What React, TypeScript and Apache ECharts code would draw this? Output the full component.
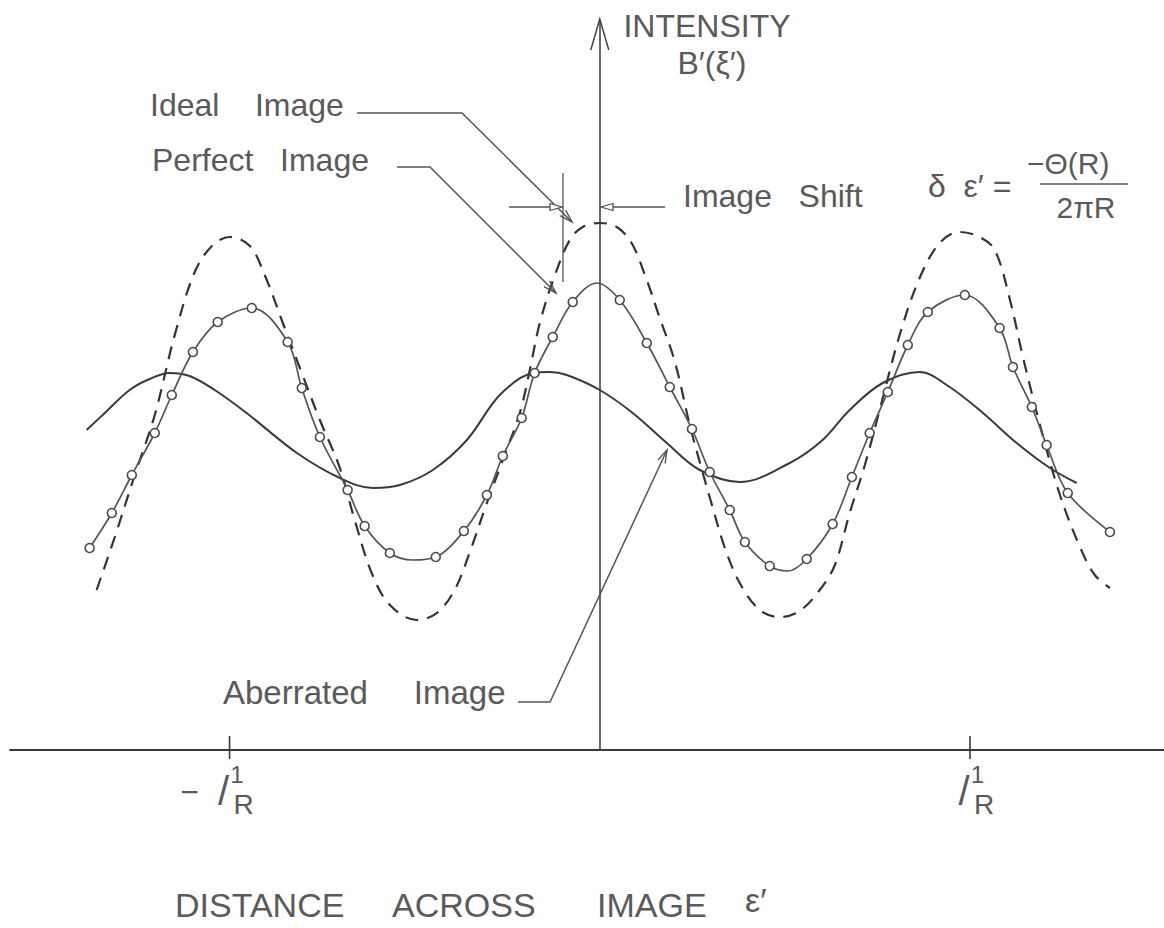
import React, { useEffect, useRef } from "react";
import * as echarts from "echarts";

// Axis extents: x in units of 1/R, y = intensity (arbitrary units)
const X_MIN = -1.593;
const X_MAX = 1.524;
const Y_MIN = 0;
const Y_MAX = 7.28;

// Ideal image (dashed)
const idealX = [-1.359, -1.31, -1.256, -1.202, -1.148, -1.094, -1.045, -0.999, -0.945, -0.905, -0.856, -0.81, -0.756, -0.702, -0.662, -0.616, -0.567, -0.494, -0.44, -0.392, -0.351, -0.305, -0.257, -0.216, -0.189, -0.162, -0.122, -0.081, -0.046, 0.0, 0.046, 0.086, 0.122, 0.162, 0.203, 0.243, 0.27, 0.303, 0.338, 0.378, 0.432, 0.486, 0.54, 0.594, 0.635, 0.675, 0.716, 0.756, 0.81, 0.864, 0.918, 0.972, 1.026, 1.067, 1.108, 1.143, 1.189, 1.243, 1.297, 1.337, 1.378];
const idealY = [1.6, 2.13, 2.75, 3.35, 4.15, 4.78, 5.05, 5.13, 5.04, 4.75, 4.27, 3.82, 3.3, 2.82, 2.3, 1.77, 1.45, 1.3, 1.37, 1.6, 1.98, 2.47, 2.95, 3.37, 3.8, 4.27, 4.74, 5.1, 5.23, 5.27, 5.23, 5.07, 4.75, 4.32, 3.88, 3.25, 2.88, 2.45, 2.02, 1.67, 1.4, 1.33, 1.39, 1.6, 1.85, 2.37, 2.85, 3.4, 4.15, 4.72, 5.07, 5.18, 5.13, 5.0, 4.5, 3.93, 3.25, 2.55, 2.03, 1.75, 1.62];

// Perfect image (solid with circles); perfectCircle = 1 where a plotted circle is drawn
const perfectX = [-1.378, -1.318, -1.264, -1.202, -1.156, -1.099, -1.032, -0.94, -0.843, -0.805, -0.756, -0.681, -0.635, -0.567, -0.505, -0.443, -0.367, -0.305, -0.262, -0.211, -0.176, -0.127, -0.073, -0.008, 0.054, 0.127, 0.189, 0.249, 0.297, 0.351, 0.392, 0.459, 0.508, 0.559, 0.629, 0.681, 0.729, 0.778, 0.832, 0.886, 0.986, 1.08, 1.116, 1.167, 1.207, 1.264, 1.378];
const perfectY = [2.02, 2.37, 2.75, 3.17, 3.55, 3.98, 4.28, 4.42, 4.08, 3.62, 3.13, 2.6, 2.24, 1.97, 1.9, 1.93, 2.19, 2.55, 2.94, 3.32, 3.77, 4.13, 4.48, 4.67, 4.5, 4.07, 3.63, 3.21, 2.78, 2.4, 2.08, 1.84, 1.79, 1.91, 2.26, 2.73, 3.17, 3.58, 4.05, 4.38, 4.55, 4.22, 3.83, 3.43, 3.05, 2.57, 2.18];
const perfectCircle = [1, 1, 1, 1, 1, 1, 1, 1, 1, 1, 1, 1, 1, 1, 0, 1, 1, 1, 1, 1, 1, 1, 1, 0, 1, 1, 1, 1, 1, 1, 1, 1, 0, 1, 1, 1, 1, 1, 1, 1, 1, 1, 1, 1, 1, 1, 1];

// Aberrated image (smooth solid)
const aberratedX = [-1.386, -1.337, -1.27, -1.216, -1.162, -1.108, -1.04, -0.954, -0.818, -0.702, -0.613, -0.54, -0.451, -0.359, -0.27, -0.181, -0.135, -0.089, 0.0, 0.089, 0.181, 0.27, 0.378, 0.513, 0.602, 0.675, 0.764, 0.864, 0.945, 1.035, 1.126, 1.216, 1.288];
const aberratedY = [3.2, 3.37, 3.6, 3.71, 3.77, 3.74, 3.6, 3.37, 2.97, 2.72, 2.62, 2.65, 2.8, 3.1, 3.55, 3.77, 3.78, 3.75, 3.6, 3.37, 3.07, 2.8, 2.68, 2.87, 3.1, 3.4, 3.67, 3.78, 3.63, 3.37, 3.07, 2.82, 2.67];

// Marked ticks on the distance axis
const tickValues = [-1, 1];
const tickSigns = ["−", ""];

const FONT = '"Liberation Sans", Arial, sans-serif';
const TEXT = "#5a5a5a";
const INK = "#3a3a3a";
const LEAD = "#555555";

function txt(x: number, y: number, text: string, size: number, align = "left") {
  return {
    type: "text",
    x,
    y,
    z: 100,
    silent: true,
    style: {
      text,
      font: `${size}px ${FONT}`,
      fill: TEXT,
      align,
      verticalAlign: "middle",
      textAlign: align,
      textVerticalAlign: "middle",
    },
  };
}

function poly(points: number[][], width = 1.5, color = LEAD) {
  return {
    type: "polyline",
    z: 100,
    silent: true,
    shape: { points },
    style: { stroke: color, lineWidth: width, fill: "none" },
  };
}

function arrowHead(tip: number[], from: number[], len = 13, half = 4, closed = false) {
  const dx = tip[0] - from[0];
  const dy = tip[1] - from[1];
  const d = Math.sqrt(dx * dx + dy * dy) || 1;
  const ux = dx / d;
  const uy = dy / d;
  const bx = tip[0] - ux * len;
  const by = tip[1] - uy * len;
  const pts = [
    [bx - uy * half, by + ux * half],
    [tip[0], tip[1]],
    [bx + uy * half, by - ux * half],
  ];
  if (closed) {
    return {
      type: "polygon",
      z: 100,
      silent: true,
      shape: { points: pts },
      style: { stroke: LEAD, lineWidth: 1.3, fill: "#fff" },
    };
  }
  return poly(pts, 1.4);
}

export default function App() {
  const ref = useRef<HTMLDivElement>(null);

  useEffect(() => {
    const chart = echarts.init(ref.current!, null, { renderer: "svg" });
    const zip = (xs: number[], ys: number[]) => xs.map((x, i) => [x, ys[i]]);

    chart.setOption({
      animation: false,
      backgroundColor: "#ffffff",
      grid: { left: 10, right: 0, top: 22, bottom: 178, containLabel: false },
      xAxis: {
        type: "value",
        min: X_MIN,
        max: X_MAX,
        axisLine: { show: true, onZero: true, lineStyle: { color: "#3a3a3a", width: 2 } },
        axisTick: { show: false },
        axisLabel: { show: false },
        splitLine: { show: false },
      },
      yAxis: {
        type: "value",
        min: Y_MIN,
        max: Y_MAX,
        axisLine: { show: true, onZero: true, lineStyle: { color: "#444", width: 1.6 } },
        axisTick: { show: false },
        axisLabel: { show: false },
        splitLine: { show: false },
      },
      series: [
        {
          name: "Ideal Image",
          type: "line",
          data: zip(idealX, idealY),
          smooth: 0.35,
          showSymbol: false,
          lineStyle: { color: "#333", width: 2.2, type: [13, 9] },
          z: 3,
        },
        {
          name: "Aberrated Image",
          type: "line",
          data: zip(aberratedX, aberratedY),
          smooth: 0.35,
          showSymbol: false,
          lineStyle: { color: INK, width: 2 },
          z: 4,
        },
        {
          name: "Perfect Image",
          type: "line",
          data: perfectX.map((x, i) => ({
            value: [x, perfectY[i]],
            symbol: perfectCircle[i] ? "circle" : "none",
          })),
          smooth: 0.35,
          showSymbol: true,
          symbolSize: 9,
          itemStyle: { color: "#ffffff", borderColor: "#4a4a4a", borderWidth: 1.6 },
          lineStyle: { color: "#555", width: 1.7 },
          z: 5,
        },
      ],
    });

    const P = (x: number, y: number) => chart.convertToPixel({ gridIndex: 0 }, [x, y]) as number[];
    const g: any[] = [];

    // y-axis open arrowhead
    const top = P(0, Y_MAX);
    g.push(poly([[top[0] - 9, top[1] + 28], [top[0], top[1] - 3], [top[0] + 9, top[1] + 28]], 1.5, "#444"));

    // ticks at -1/R and 1/R, crossing the axis, with stacked "1/R" labels
    tickValues.forEach((v, i) => {
      const p = P(v, 0);
      g.push(poly([[p[0], p[1] - 14], [p[0], p[1] + 9]], 1.6, "#3a3a3a"));
      if (tickSigns[i]) g.push(txt(p[0] - 40, p[1] + 42, tickSigns[i], 32, "center"));
      g.push(txt(p[0] + 7.5, p[1] + 24, "1", 24, "center"));
      g.push(txt(p[0] - 6, p[1] + 41, "/", 40, "center"));
      g.push(txt(p[0] + 14, p[1] + 54, "R", 28, "center"));
    });

    // axis titles
    g.push(txt(707, 26, "INTENSITY", 32, "center"));
    g.push(txt(712, 63, "B′(ξ′)", 32, "center"));
    g.push(txt(175, 905, "DISTANCE", 34));
    g.push(txt(392, 905, "ACROSS", 34));
    g.push(txt(597, 905, "IMAGE", 34));
    g.push(txt(745, 900, "ε′", 34));

    // labels with leaders
    g.push(txt(150, 105, "Ideal\u00A0\u00A0\u00A0\u00A0Image", 32));
    g.push(poly([[357, 113], [462, 113], [572, 222]]));
    g.push(arrowHead([572, 222], [462, 113]));

    g.push(txt(152, 160, "Perfect\u00A0\u00A0\u00A0Image", 32));
    g.push(poly([[397, 167], [430, 167], [556, 293]]));
    g.push(arrowHead([556, 293], [430, 167]));

    g.push(txt(223, 692, "Aberrated\u00A0\u00A0\u00A0\u00A0\u00A0Image", 33));
    g.push(poly([[518, 702], [550, 702], [667, 450]]));
    g.push(arrowHead([667, 450], [550, 702]));

    // image shift
    g.push(txt(683, 196, "Image\u00A0\u00A0\u00A0Shift", 32));
    g.push(poly([[563, 173], [563, 282]], 1.3));
    g.push(poly([[509, 207], [562, 207]], 1.3));
    g.push(arrowHead([562, 207], [509, 207], 12, 3.5, true));
    g.push(poly([[665, 207], [601, 207]], 1.3));
    g.push(arrowHead([601, 207], [665, 207], 12, 3.5, true));

    // formula
    g.push(txt(928, 186, "δ\u00A0\u00A0ε′\u00A0=", 32));
    g.push(txt(1027, 163, "−Θ(R)", 30));
    g.push(poly([[1040, 184], [1128, 184]], 1.6, TEXT));
    g.push(txt(1086, 207, "2πR", 30, "center"));

    chart.setOption({ graphic: g });

    return () => chart.dispose();
  }, []);

  return (
    <div
      ref={ref}
      style={{ position: "fixed", left: 0, top: 0, width: 1164, height: 928, background: "#fff" }}
    />
  );
}
